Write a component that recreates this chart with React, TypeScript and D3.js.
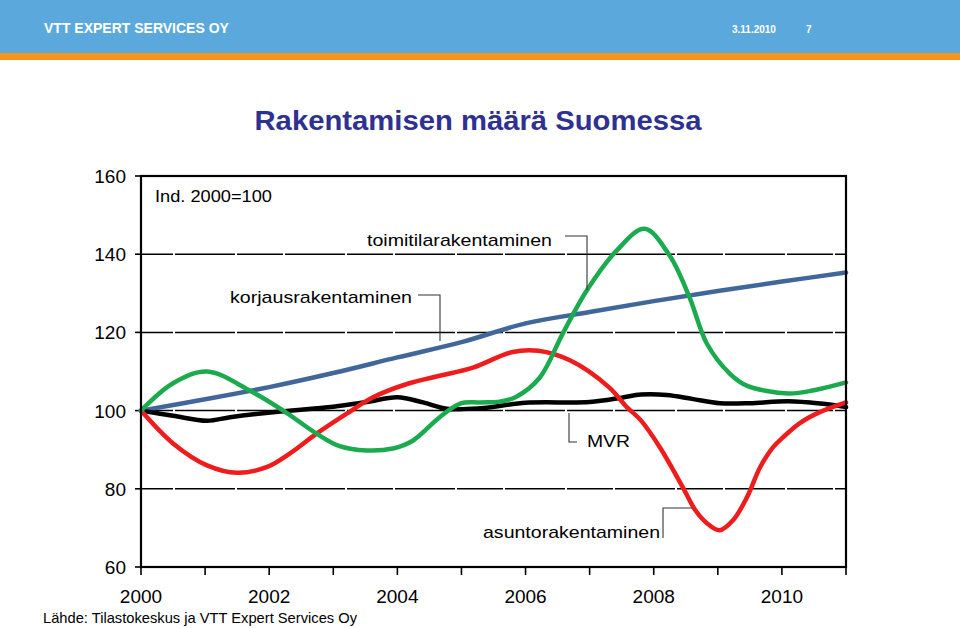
import React from "react";
import * as d3 from "d3";

const blueYears = [2000, 2001, 2002, 2003, 2004, 2005, 2006, 2007, 2008, 2009, 2010, 2011];
const blueValues = [100, 102.9, 106, 109.6, 113.6, 117.5, 122.3, 125.2, 128, 130.6, 133, 135.3];

const greenYears = [2000, 2000.5, 2001.03, 2001.7, 2002.22, 2002.74, 2003.1, 2003.52, 2003.93, 2004.24, 2004.66, 2004.98, 2005.29, 2005.6, 2005.85, 2006.22, 2006.58, 2006.95, 2007.42, 2007.86, 2008.25, 2008.56, 2008.83, 2009.19, 2009.45, 2010.1, 2010.5, 2011];
const greenValues = [100, 107, 110, 105.1, 100, 94.1, 90.9, 89.8, 90.3, 92.3, 98.3, 101.8, 102.1, 102.3, 103.5, 108.4, 119.7, 130.6, 140.9, 146.5, 139.6, 128.9, 117.1, 109.4, 106.4, 104.4, 105.2, 107.2];

const redYears = [2000, 2000.5, 2001.03, 2001.5, 2001.97, 2002.32, 2002.74, 2003.21, 2003.62, 2004.15, 2004.66, 2005.18, 2005.8, 2006.2, 2006.7, 2007.3, 2007.58, 2007.8, 2008.1, 2008.45, 2008.65, 2008.83, 2009.03, 2009.24, 2009.46, 2009.66, 2009.86, 2010.02, 2010.28, 2010.59, 2011];
const redValues = [100, 91.6, 86, 84.1, 85.6, 89, 94.1, 99.2, 103.4, 106.8, 108.9, 111, 115, 115.3, 112.8, 106, 100.9, 97.5, 90.5, 80.5, 74.5, 71.2, 69.4, 72, 78, 85.5, 90.6, 93.2, 96.8, 99.6, 102.1];

const blackYears = [2000, 2000.5, 2001.03, 2001.39, 2002.06, 2003, 2003.52, 2004, 2004.4, 2004.77, 2005.29, 2006, 2007, 2007.5, 2007.8, 2008.2, 2008.6, 2009.03, 2009.5, 2010.1, 2010.6, 2011];
const blackValues = [100, 98.7, 97.4, 98.3, 99.6, 101, 102.2, 103.4, 102.1, 100.5, 100.6, 102, 102.2, 103.3, 104.1, 104, 103, 101.9, 101.9, 102.4, 101.8, 100.9];

const yTicks = [60, 80, 100, 120, 140, 160];
const gridValues = [80, 100, 120, 140];
const xLabelYears = [2000, 2002, 2004, 2006, 2008, 2010];
const xTickYears = d3.range(2000, 2012);

const title = "Rakentamisen määrä Suomessa";
const headerLeft = "VTT EXPERT SERVICES OY";
const headerDate = "3.11.2010";
const headerPage = "7";
const indexNote = "Ind. 2000=100";
const source = "Lähde: Tilastokeskus ja VTT Expert Services Oy";

export default function App() {
  const x = d3.scaleLinear().domain([2000, 2011]).range([141, 846]);
  const y = d3.scaleLinear().domain([60, 160]).range([567, 176]);

  const mk = (ys: number[], vs: number[]) =>
    d3
      .line<number>()
      .x((_, i) => x(ys[i]))
      .y((v) => y(v))
      .curve(d3.curveCatmullRom.alpha(0.5))(vs) || "";

  const font = "Liberation Sans, Arial, sans-serif";
  const series = [
    { ys: blueYears, vs: blueValues, color: "#41679A" },
    { ys: blackYears, vs: blackValues, color: "#000000" },
    { ys: redYears, vs: redValues, color: "#EE1C1C" },
    { ys: greenYears, vs: greenValues, color: "#1BAA4E" },
  ];

  return (
    <svg
      width={960}
      height={628}
      style={{ position: "absolute", left: 0, top: 0, background: "#fff" }}
      fontFamily={font}
    >
      <rect x={0} y={0} width={960} height={628} fill="#fff" />
      {/* header */}
      <rect x={0} y={0} width={960} height={53} fill="#5BA8DC" />
      <rect x={0} y={53} width={960} height={7} fill="#F7941E" />
      <text x={44} y={33} fill="#fff" fontSize={14} fontWeight="bold">
        {headerLeft}
      </text>
      <text x={732} y={33} fill="#fff" fontSize={10} fontWeight="bold">
        {headerDate}
      </text>
      <text x={806} y={33} fill="#fff" fontSize={10} fontWeight="bold">
        {headerPage}
      </text>

      {/* title */}
      <text x={478} y={130} textAnchor="middle" fill="#2E3192" fontSize={28} fontWeight="bold" textLength={447} lengthAdjust="spacingAndGlyphs">
        {title}
      </text>

      {/* gridlines */}
      {gridValues.map((v) => (
        <line
          key={v}
          x1={x(2000)}
          x2={x(2011)}
          y1={y(v)}
          y2={y(v)}
          stroke="#000"
          strokeWidth={1.5}
          strokeDasharray="46,2,60,2"
          strokeDashoffset={14}
        />
      ))}

      {/* y ticks and labels */}
      {yTicks.map((v) => (
        <g key={v}>
          <line x1={x(2000) - 6} x2={x(2000)} y1={y(v)} y2={y(v)} stroke="#000" strokeWidth={1.6} />
          <text x={126} y={y(v) + 7} textAnchor="end" fontSize={19} fill="#000">
            {v}
          </text>
        </g>
      ))}

      {/* x ticks */}
      {xTickYears.map((yr) => (
        <line key={yr} x1={x(yr)} x2={x(yr)} y1={y(60)} y2={y(60) + 8} stroke="#000" strokeWidth={1.6} />
      ))}
      {xLabelYears.map((yr) => (
        <text key={yr} x={x(yr)} y={603} textAnchor="middle" fontSize={19} fill="#000">
          {yr}
        </text>
      ))}

      {/* series */}
      {series.map((s, i) => (
        <path key={i} d={mk(s.ys, s.vs)} fill="none" stroke={s.color} strokeWidth={4.5} strokeLinejoin="round" strokeLinecap="round" />
      ))}

      {/* frame */}
      <rect x={x(2000)} y={y(160)} width={x(2011) - x(2000)} height={y(60) - y(160)} fill="none" stroke="#000" strokeWidth={2.2} />

      {/* annotations */}
      <text x={155} y={202} fontSize={17} fill="#000" textLength={117} lengthAdjust="spacingAndGlyphs">
        {indexNote}
      </text>

      <text x={367} y={246} fontSize={17} fill="#000" textLength={185} lengthAdjust="spacingAndGlyphs">
        toimitilarakentaminen
      </text>
      <polyline points="565,236 587,236 587,290" fill="none" stroke="#333" strokeWidth={1.1} />

      <text x={230} y={303} fontSize={17} fill="#000" textLength={182} lengthAdjust="spacingAndGlyphs">
        korjausrakentaminen
      </text>
      <polyline points="418,295 440,295 440,341" fill="none" stroke="#333" strokeWidth={1.1} />

      <polyline points="569,413 569,442 577,442" fill="none" stroke="#333" strokeWidth={1.1} />
      <text x={587} y={447} fontSize={17} fill="#000" textLength={43} lengthAdjust="spacingAndGlyphs">
        MVR
      </text>

      <text x={483} y={538} fontSize={17} fill="#000" textLength={177} lengthAdjust="spacingAndGlyphs">
        asuntorakentaminen
      </text>
      <polyline points="663,538 663,508 692,508" fill="none" stroke="#333" strokeWidth={1.1} />

      {/* source */}
      <text x={43} y={623} fontSize={15} fill="#000" textLength={314} lengthAdjust="spacingAndGlyphs">
        {source}
      </text>
    </svg>
  );
}
